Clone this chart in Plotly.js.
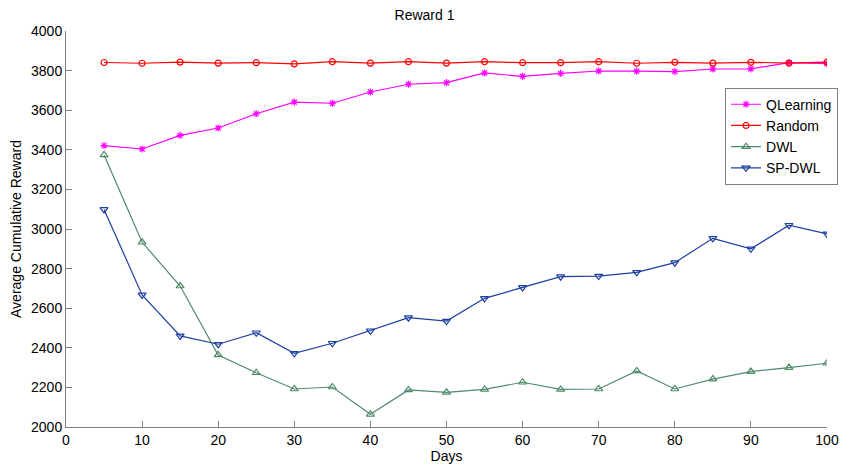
<!DOCTYPE html>
<html>
<head>
<meta charset="utf-8">
<script src="https://cdn.plot.ly/plotly-3.0.1.min.js"></script>
<style>html,body{margin:0;padding:0;background:#fff;}#chart{width:849px;height:466px;}</style>
</head>
<body>
<div id="chart"></div>
<script>
const days = [5,10,15,20,25,30,35,40,45,50,55,60,65,70,75,80,85,90,95,100];
const qlearning = [3421,3404,3473,3510,3582,3641,3635,3692,3731,3739,3788,3771,3786,3798,3797,3795,3808,3809,3840,3835];
const random = [3841,3837,3843,3838,3840,3834,3845,3838,3845,3838,3845,3840,3840,3845,3837,3842,3838,3842,3838,3843];
const dwl = [3374,2933,2712,2364,2274,2192,2202,2064,2187,2175,2190,2226,2190,2192,2283,2192,2242,2280,2300,2322];
const spdwl = [3099,2667,2460,2418,2476,2372,2423,2486,2552,2535,2650,2705,2759,2762,2781,2830,2953,2900,3019,2975];
const seriesNames = ["QLearning","Random","DWL","SP-DWL"];
const xTicks = [0,10,20,30,40,50,60,70,80,90,100];
const yTicks = [2000,2200,2400,2600,2800,3000,3200,3400,3600,3800,4000];

const mk = (y, name, color, symbol, size) => ({
  x: days, y: y, name: name, type: 'scatter', mode: 'lines+markers',
  line: {color: color, width: 1.2},
  marker: {symbol: symbol, size: size, color: color, line: {color: color, width: 1.2}}
});
const traces = [
  mk(qlearning, seriesNames[0], '#ff00ff', 'asterisk-open', 6),
  mk(random, seriesNames[1], '#ff0000', 'circle-open', 6),
  mk(dwl, seriesNames[2], '#4f8a6a', 'triangle-up-open', 7),
  mk(spdwl, seriesNames[3], '#1e3ea0', 'triangle-down-open', 7)
];
const FAM = 'Liberation Sans, Arial, sans-serif';
const f = (s) => ({family: FAM, size: s, color: '#000'});
const layout = {
  width: 849, height: 466,
  margin: {l: 66, r: 11, t: 31, b: 39},
  paper_bgcolor: '#fff', plot_bgcolor: '#fff',
  font: f(14),
  showlegend: true,
  title: {text: 'Reward 1', font: f(14), x: 0.5, xanchor: 'center', y: 0.968, yanchor: 'middle'},
  xaxis: {
    range: [0, 100], tickvals: xTicks, ticktext: xTicks.map(String),
    showgrid: false, zeroline: false, showline: true, linecolor: '#808080', linewidth: 1,
    ticks: 'inside', ticklen: 6, tickcolor: '#808080', mirror: false,
    tickfont: f(14),
    title: {text: 'Days', font: f(14), standoff: 1}
  },
  yaxis: {
    range: [2000, 4000], tickvals: yTicks, ticktext: yTicks.map(String),
    showgrid: false, zeroline: false, showline: true, linecolor: '#808080', linewidth: 1,
    ticks: 'inside', ticklen: 6, tickcolor: '#808080',
    tickfont: f(14),
    title: {text: 'Average Cumulative Reward', font: f(14), standoff: 6}
  },
  legend: {
    x: 0.866, y: 0.857, xanchor: 'left', yanchor: 'top',
    bgcolor: '#fff', bordercolor: '#808080', borderwidth: 1,
    font: f(14),
    tracegroupgap: 0, itemwidth: 30
  }
};
Plotly.newPlot('chart', traces, layout, {displayModeBar: false, staticPlot: true});
</script>
</body>
</html>
